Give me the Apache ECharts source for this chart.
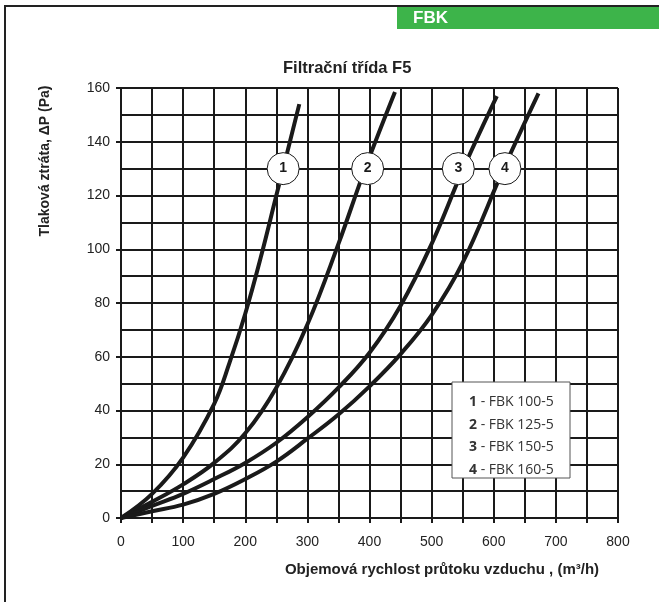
<!DOCTYPE html>
<html>
<head>
<meta charset="utf-8">
<script src="https://cdn.jsdelivr.net/npm/echarts@6/dist/echarts.min.js"></script>
<style>html,body{margin:0;padding:0;background:#fff}#c{width:659px;height:602px}</style>
</head>
<body>
<div id="c"></div>
<script>
// ---- data ----
const titleText = 'Filtrační třída F5';
const headerText = 'FBK';
const yAxisName = 'Tlaková ztráta, ΔP (Pa)';
const xAxisName = 'Objemová rychlost průtoku vzduchu , (m³/h)';
const seriesNames = ['FBK 100-5', 'FBK 125-5', 'FBK 150-5', 'FBK 160-5'];
const curveNumbers = ['1', '2', '3', '4'];
const curve1 = [[0,0],[50,9],[100,22.5],[150,42.5],[175,58],[200,76],[225,97],[250,120],[261,130],[287,154]];
const curve2 = [[0,0],[50,6],[100,12.5],[150,20.5],[200,31.5],[250,48.5],[300,72],[350,102],[393,130],[441,158.5]];
const curve3 = [[0,0],[50,4.5],[100,9],[150,14.5],[200,20.5],[250,28],[300,37.5],[350,48.5],[400,61.5],[450,79],[500,102],[551,130],[605,157]];
const curve4 = [[0,0],[50,2.5],[100,5],[150,9],[200,14.5],[250,21],[300,29.5],[350,38.5],[400,49],[450,61],[500,75.5],[550,95],[616,130],[672,158]];
const labelPoints = [[261,130],[397,130],[543,130],[618,130]];
const xMin = 0, xMax = 800, xStep = 100;
const yMin = 0, yMax = 160, yStep = 20;

const curves = [curve1, curve2, curve3, curve4];
const chart = echarts.init(document.getElementById('c'), null, {renderer: 'canvas'});
const ink = '#1a1a1a';
const series = curves.map((d, i) => ({
  name: seriesNames[i], type: 'line', data: d, smooth: 0.4, showSymbol: false,
  lineStyle: {color: ink, width: 4}, z: 3, silent: true
}));
series.push({
  type: 'scatter', z: 5, silent: true,
  data: labelPoints.map((p, i) => ({value: p, name: curveNumbers[i]})),
  symbol: 'circle', symbolSize: 32,
  itemStyle: {color: '#fff', opacity: 1, borderColor: ink, borderWidth: 1},
  label: {show: true, position: 'inside', formatter: p => p.name,
    fontFamily: 'Liberation Sans', fontWeight: 'bold', fontSize: 14, color: ink}
});

const legendLines = seriesNames.map((n, i) => '{b|' + curveNumbers[i] + '}{t| - ' + n + '}').join('\n');

chart.setOption({
  animation: false,
  title: {text: titleText, left: 283, top: 60, padding: 0, textAlign: 'left',
    textStyle: {fontFamily: 'Liberation Sans', fontWeight: 'bold', fontSize: 16.5, color: '#222'}},
  grid: {left: 121, right: 41, top: 88, bottom: 84, containLabel: false},
  xAxis: {type: 'value', min: xMin, max: xMax, interval: xStep,
    axisLine: {show: true, lineStyle: {color: ink, width: 2}},
    axisTick: {show: true, length: 5, lineStyle: {color: ink, width: 2}},
    minorTick: {show: true, splitNumber: 2, length: 5, lineStyle: {color: ink, width: 2}},
    axisLabel: {margin: 17, fontFamily: 'Liberation Sans', fontSize: 14, color: '#222'},
    splitLine: {show: true, lineStyle: {color: ink, width: 2}},
    minorSplitLine: {show: true, lineStyle: {color: ink, width: 2}}
  },
  yAxis: {type: 'value', min: yMin, max: yMax, interval: yStep,
    axisLine: {show: true, lineStyle: {color: ink, width: 2}},
    axisTick: {show: true, length: 5, lineStyle: {color: ink, width: 2}},
    minorTick: {show: false, splitNumber: 2},
    axisLabel: {margin: 11, fontFamily: 'Liberation Sans', fontSize: 14, color: '#222'},
    splitLine: {show: true, lineStyle: {color: ink, width: 2}},
    minorSplitLine: {show: true, lineStyle: {color: ink, width: 2}}
  },
  series: series,
  graphic: [
    {type: 'line', shape: {x1: 5, y1: 6, x2: 659, y2: 6}, style: {stroke: '#222', lineWidth: 2}},
    {type: 'line', shape: {x1: 5, y1: 5, x2: 5, y2: 602}, style: {stroke: '#222', lineWidth: 2}},
    {type: 'rect', shape: {x: 397, y: 7, width: 262, height: 22}, style: {fill: '#3db44a'}},
    {type: 'text', x: 413, y: 18.5, style: {text: headerText, fill: '#fff', fontFamily: 'Liberation Sans',
      fontWeight: 'bold', fontSize: 17, textVerticalAlign: 'middle', textAlign: 'left'}},
    {type: 'text', x: 45, y: 161, rotation: Math.PI / 2, style: {text: yAxisName, fill: '#222',
      fontFamily: 'Liberation Sans', fontWeight: 'bold', fontSize: 14, textAlign: 'center', textVerticalAlign: 'middle'}},
    {type: 'text', x: 442, y: 570, style: {text: xAxisName, fill: '#222',
      fontFamily: 'Liberation Sans', fontWeight: 'bold', fontSize: 15, textAlign: 'center', textVerticalAlign: 'middle'}},
    {type: 'rect', z: 10, shape: {x: 452, y: 382, width: 118, height: 96},
      style: {fill: '#fff', stroke: '#555', lineWidth: 1}},
    {type: 'text', z: 11, x: 469, y: 391, style: {text: legendLines, fill: '#333',
      rich: {b: {fontFamily: 'Open Sans', fontWeight: 'bold', fontSize: 14, color: '#222', lineHeight: 22.5},
             t: {fontFamily: 'Open Sans', fontSize: 14, color: '#333', lineHeight: 22.5}}}}
  ]
});
</script>
</body>
</html>
